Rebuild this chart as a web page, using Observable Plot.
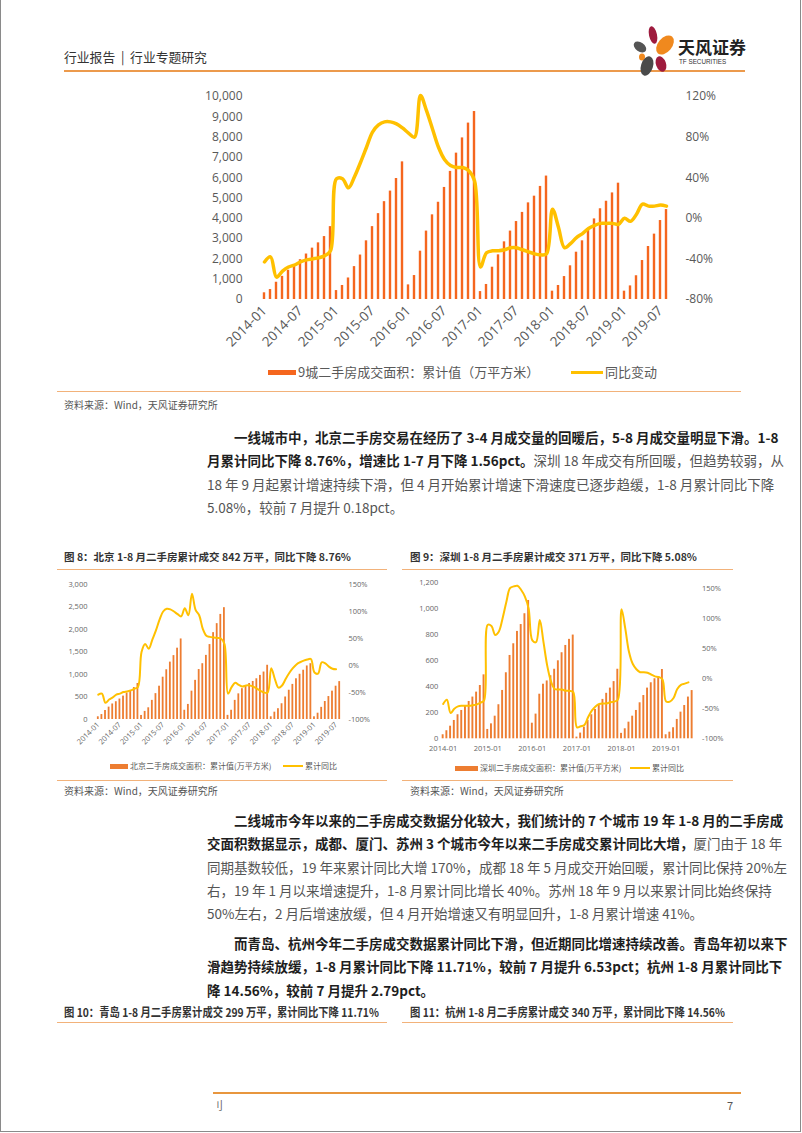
<!DOCTYPE html>
<html><head><meta charset="utf-8">
<script src="https://cdn.jsdelivr.net/npm/d3@7"></script>
<script src="https://cdn.jsdelivr.net/npm/@observablehq/plot@0.6"></script>
<style>
html,body{margin:0;padding:0;background:#fff}
body{width:802px;height:1133px;position:relative;overflow:hidden;font-family:"Noto Sans CJK SC","Noto Sans",sans-serif}
.a{position:absolute;white-space:nowrap}
.frame{position:absolute;left:0;top:-2px;width:799px;height:1132px;border:1px solid #8a8a8a}
.hr{position:absolute;height:1px;background:#F2B27A}
.para div{height:23.3px;line-height:23.3px;font-size:13.5px;text-align:justify;text-align-last:justify;white-space:nowrap}
.para div.last{text-align-last:left}
.b{color:#1e1e1e;font-weight:700}
.n{color:#555}
.src{font-size:10px;color:#555}
.ft{font-size:10.5px;font-weight:700;color:#333}
.lg{font-size:13px;color:#595959}
.lgs{font-size:8px;color:#595959}
</style></head><body>
<div class="frame"></div>

<!-- header -->
<div class="a" style="left:64px;top:48px;font-size:12.8px;line-height:18px;color:#333">行业报告&nbsp;&nbsp;|&nbsp;&nbsp;行业专题研究</div>
<div class="a" style="left:64px;top:70px;width:681px;height:2px;background:#EC9A4C"></div>
<svg class="a" style="left:628px;top:24px" width="120" height="54">
  <ellipse cx="25" cy="11" rx="4" ry="9" transform="rotate(-12 25 11)" fill="#9E1B3E"/>
  <ellipse cx="37" cy="21" rx="7" ry="11" transform="rotate(40 37 21)" fill="#F0891E"/>
  <ellipse cx="12" cy="23" rx="4.5" ry="7" transform="rotate(-55 12 23)" fill="#555"/>
  <ellipse cx="14" cy="33" rx="3" ry="3.5" fill="#F0891E"/>
  <ellipse cx="19" cy="42" rx="6" ry="10" transform="rotate(18 19 42)" fill="#4a4a4a"/>
  <ellipse cx="33" cy="40" rx="5" ry="8" transform="rotate(-20 33 40)" fill="#9E1B3E"/>
  <text x="50" y="30" font-size="17" font-weight="700" fill="#222" font-family="Noto Sans CJK SC">天风证券</text>
  <text x="51" y="40" font-size="6.3" fill="#333" font-family="Liberation Sans Narrow, Liberation Sans">TF SECURITIES</text>
</svg>

<!-- main chart -->
<div id="main" class="a" style="left:190px;top:85px"></div>
<div class="a" style="left:268px;top:370px;width:28px;height:5px;background:#F5661E"></div>
<div class="a lg" style="left:298px;top:363px;line-height:18px">9城二手房成交面积：累计值（万平方米）</div>
<div class="a" style="left:571px;top:371px;width:32px;height:3px;background:#FFC000"></div>
<div class="a lg" style="left:605px;top:363px;line-height:18px">同比变动</div>
<div class="hr" style="left:57px;top:391px;width:684px"></div>
<div class="a src" style="left:64px;top:398px;line-height:14px">资料来源：Wind，天风证券研究所</div>

<!-- paragraph 1 -->
<div class="a para" style="left:207px;top:426px;width:533px">
  <div class="b" style="padding-left:27px">一线城市中，北京二手房交易在经历了 3-4 月成交量的回暖后，5-8 月成交量明显下滑。1-8</div>
  <div><span class="b">月累计同比下降 8.76%，增速比 1-7 月下降 1.56pct。</span><span class="n">深圳 18 年成交有所回暖，但趋势较弱，从</span></div>
  <div class="n">18 年 9 月起累计增速持续下滑，但 4 月开始累计增速下滑速度已逐步趋缓，1-8 月累计同比下降</div>
  <div class="n last">5.08%，较前 7 月提升 0.18pct。</div>
</div>

<!-- figure 8 / 9 titles -->
<div class="a ft" style="left:64px;top:549px;line-height:16px">图 8：北京 1-8 月二手房累计成交 842 万平，同比下降 8.76%</div>
<div class="hr" style="left:57px;top:569px;width:330px"></div>
<div class="a ft" style="left:410px;top:549px;line-height:16px">图 9：深圳 1-8 月二手房累计成交 371 万平，同比下降 5.08%</div>
<div class="hr" style="left:402px;top:569px;width:331px"></div>

<div id="bj" class="a" style="left:60px;top:575px"></div>
<div id="sz" class="a" style="left:400px;top:575px"></div>

<div class="a" style="left:110px;top:764px;width:18px;height:5px;background:#ED7D31"></div>
<div class="a lgs" style="left:130px;top:760px;line-height:12px">北京二手房成交面积：累计值(万平方米)</div>
<div class="a" style="left:283px;top:765px;width:20px;height:2px;background:#FFC000"></div>
<div class="a lgs" style="left:305px;top:760px;line-height:12px">累计同比</div>

<div class="a" style="left:455px;top:766px;width:23px;height:5px;background:#ED7D31"></div>
<div class="a lgs" style="left:480px;top:762px;line-height:12px">深圳二手房成交面积：累计值(万平方米)</div>
<div class="a" style="left:630px;top:767px;width:20px;height:2px;background:#FFC000"></div>
<div class="a lgs" style="left:652px;top:762px;line-height:12px">累计同比</div>

<div class="hr" style="left:57px;top:780px;width:330px"></div>
<div class="hr" style="left:402px;top:780px;width:331px"></div>
<div class="a src" style="left:64px;top:784px;line-height:14px">资料来源：Wind，天风证券研究所</div>
<div class="a src" style="left:410px;top:784px;line-height:14px">资料来源：Wind，天风证券研究所</div>

<!-- paragraph 2 -->
<div class="a para" style="left:207px;top:809px;width:533px">
  <div class="b" style="padding-left:27px">二线城市今年以来的二手房成交数据分化较大，我们统计的 7 个城市 19 年 1-8 月的二手房成</div>
  <div><span class="b">交面积数据显示，成都、厦门、苏州 3 个城市今年以来二手房成交累计同比大增，</span><span class="n">厦门由于 18 年</span></div>
  <div class="n">同期基数较低，19 年来累计同比大增 170%，成都 18 年 5 月成交开始回暖，累计同比保持 20%左</div>
  <div class="n">右，19 年 1 月以来增速提升，1-8 月累计同比增长 40%。苏州 18 年 9 月以来累计同比始终保持</div>
  <div class="n last">50%左右，2 月后增速放缓，但 4 月开始增速又有明显回升，1-8 月累计增速 41%。</div>
</div>

<!-- paragraph 3 -->
<div class="a para" style="left:207px;top:932px;width:533px">
  <div class="b" style="padding-left:27px">而青岛、杭州今年二手房成交数据累计同比下滑，但近期同比增速持续改善。青岛年初以来下</div>
  <div class="b">滑趋势持续放缓，1-8 月累计同比下降 11.71%，较前 7 月提升 6.53pct；杭州 1-8 月累计同比下</div>
  <div class="b last">降 14.56%，较前 7 月提升 2.79pct。</div>
</div>

<!-- figure 10 / 11 titles -->
<div class="a ft" style="left:64px;top:1003px;font-size:12px;line-height:18px;transform:scaleX(0.86);transform-origin:left center">图 10：青岛 1-8 月二手房累计成交 299 万平，累计同比下降 11.71%</div>
<div class="hr" style="left:57px;top:1022px;width:330px"></div>
<div class="a ft" style="left:410px;top:1003px;font-size:12px;line-height:18px;transform:scaleX(0.86);transform-origin:left center">图 11：杭州 1-8 月二手房累计成交 340 万平，累计同比下降 14.56%</div>
<div class="hr" style="left:402px;top:1022px;width:331px"></div>

<!-- footer -->
<div class="a" style="left:213px;top:1092px;width:528px;height:2px;background:#E8963E"></div>
<div class="a" style="left:212px;top:1098px;font-size:11px;line-height:14px;color:#666">刂</div>
<div class="a" style="left:727px;top:1098px;font-size:11px;line-height:14px;color:#555">7</div>

<script>
// ---------- data ----------
const months = d3.range(68).map(i => `${2014 + Math.floor(i / 12)}-${String(i % 12 + 1).padStart(2, "0")}`);

// 9城二手房成交面积：累计值（万平方米）
const nineCityArea = [
  330, 490, 850, 1140, 1440, 1720, 1960, 2240, 2530, 2790, 3100, 3590,
  440, 690, 1060, 1620, 2190, 2890, 3590, 4230, 4820, 5340, 5960, 6780,
  720, 1180, 2380, 3370, 4170, 4790, 5520, 6310, 7210, 7960, 8690, 9260,
  390, 740, 1590, 2200, 2840, 3370, 3840, 4290, 4760, 5090, 5570, 6080,
  410, 690, 1130, 1660, 2330, 2890, 3400, 3970, 4470, 4840, 5250, 5730,
  410, 670, 1170, 1920, 2610, 3220, 3890, 4430
];
// 同比变动 (%)
const nineCityYoy = [
  -43, -38, -58, -52, -48, -46, -43, -41, -40, -39, -37, -32,
  39, 39, 30, 41, 55, 70, 85, 92, 95, 95, 93, 89,
  84, 80, 121, 106, 88, 70, 58, 52, 50, 50, 47, 37,
  -48, -34, -32, -32, -31, -29, -29, -31, -33, -35, -36, -35,
  9, -9, -29, -25, -19, -15, -10, -7, -5, -5, -5, -6,
  0, -3, 4, 14, 12, 12, 13, 12
];

// 北京二手房成交面积：累计值(万平方米)
const bjArea = [
  60, 110, 200, 275, 345, 395, 455, 520, 585, 640, 710, 800,
  90, 180, 260, 425, 575, 740, 940, 1105, 1275, 1420, 1585, 1790,
  205, 335, 630, 870, 1110, 1240, 1425, 1665, 1930, 2130, 2335, 2485,
  92, 205, 425, 570, 685, 740, 800, 845, 905, 980, 1055, 1205,
  60, 163, 240, 350, 500, 650, 780, 905, 1005, 1095, 1190, 1240,
  60, 140, 270, 400, 510, 630, 740, 842
];
// 北京 累计同比 (%)
const bjYoy = [
  -54, -52, -69, -63, -59, -54, -52, -49, -48, -46, -43, -40,
  25, 40, 31, 48, 65, 85, 100, 105, 104, 100, 95, 91,
  106, 93, 133, 103, 93, 68, 55, 53, 52, 51, 50, 40,
  -52, -40, -32, -36, -39, -37, -37, -39, -43, -47, -50, -50,
  -5, -25, -41, -37, -25, -14, -5, 2, 6, 9, 11, 12,
  -13, -15, 6, 4, -2, -6, -7
];

// 深圳二手房成交面积：累计值(万平方米)
const szArea = [
  31, 62, 97, 141, 185, 218, 256, 287, 321, 359, 410, 492,
  72, 115, 174, 262, 372, 508, 641, 731, 826, 879, 962, 1064,
  120, 190, 343, 420, 445, 485, 535, 600, 662, 718, 765, 798,
  13, 44, 90, 141, 185, 226, 262, 303, 350, 390, 440, 535,
  42, 77, 128, 174, 218, 277, 333, 390, 431, 462, 474, 533,
  31, 51, 85, 149, 205, 256, 321, 371
];
// 深圳 累计同比 (%)
const szYoy = [
  -42, -35, -57, -50, -46, -45, -45, -45, -44, -43, -40, -36,
  90, 88, 73, 79, 101, 128, 151, 154, 155, 148, 137, 117,
  64, 61, 98, 61, 22, -4, -17, -18, -18, -20, -20, -22,
  -81, -79, -77, -64, -53, -46, -42, -41, -41, -39, -38, -35,
  116, 84, 45, 25, 16, 11, 11, 10, 7, 4, 3, -1,
  -38, -38, -32, -17, -10, -8, -6
];

const mainLeftTicks = d3.range(0, 10001, 1000);
const mainRightTicks = [-80, -40, 0, 40, 80, 120];
const bjLeftTicks = d3.range(0, 3001, 500);
const bjRightTicks = [-100, -50, 0, 50, 100, 150];
const szLeftTicks = d3.range(0, 1201, 200);
const szRightTicks = [-100, -50, 0, 50, 100, 150];

const BAR_MAIN = "#F5661E", BAR_SMALL = "#ED7D31", LINE = "#FFC000";
const fmt = d3.format(",");

function dualChart(o) {
  const bars = months.map((m, i) => ({m, v: o.area[i]}));
  const line = o.yoy.map((p, i) => ({m: months[i], p}));
  const toLeft = p => (p - o.pMin) * o.k;
  const fromLeft = v => Math.round(v / o.k + o.pMin);
  return Plot.plot({
    width: o.width, height: o.height,
    marginLeft: o.ml, marginRight: o.mr, marginTop: o.mt, marginBottom: o.mb,
    style: {fontFamily: "'Open Sans','Noto Sans CJK SC',sans-serif", fontSize: o.fs + "px", color: o.tc, background: "transparent", overflow: "visible"},
    x: {type: "band", domain: months, padding: 0},
    y: {domain: o.yDomain},
    marks: [
      Plot.barY(bars, {x: "m", y: "v", fill: o.barColor, insetLeft: o.inset, insetRight: o.inset}),
      Plot.lineY(line, {x: "m", y: d => toLeft(d.p), stroke: LINE, strokeWidth: o.lw, curve: "catmull-rom"}),
      Plot.axisY({ticks: o.leftTicks, tickFormat: fmt, tickSize: 0, tickPadding: o.lp, label: null}),
      Plot.axisY({anchor: "right", ticks: o.rightTicks.map(toLeft), tickFormat: v => fromLeft(v) + "%", tickSize: 0, tickPadding: o.rp, label: null}),
      Plot.axisX({ticks: months.filter((d, i) => i % o.every === 0), tickRotate: o.rot, tickSize: 0, tickPadding: o.xp, fontSize: o.xfs, label: null})
    ]
  });
}

document.getElementById("main").append(dualChart({
  area: nineCityArea, yoy: nineCityYoy, pMin: -80, k: 50,
  width: 530, height: 265, ml: 66, mr: 46, mt: 11, mb: 51,
  fs: 12, xfs: 13.5, tc: "#595959", yDomain: [0, 10000], barColor: BAR_MAIN, inset: 1.8, lw: 3.5,
  leftTicks: mainLeftTicks, rightTicks: mainRightTicks, lp: 14, rp: 11, every: 6, rot: -45, xp: 9
}));

document.getElementById("bj").append(dualChart({
  area: bjArea, yoy: bjYoy, pMin: -100, k: 12,
  width: 320, height: 183, ml: 36, mr: 39, mt: 9, mb: 39,
  fs: 7.5, xfs: 7.5, tc: "#666", yDomain: [0, 3000], barColor: BAR_SMALL, inset: 0.9, lw: 2,
  leftTicks: bjLeftTicks, rightTicks: bjRightTicks, lp: 9, rp: 7, every: 6, rot: -45, xp: 4
}));

document.getElementById("sz").append(dualChart({
  area: szArea, yoy: szYoy, pMin: -100, k: 1200 / 260,
  width: 320, height: 185, ml: 40.8, mr: 26.5, mt: 7.3, mb: 21.7,
  fs: 7.5, xfs: 7.5, tc: "#666", yDomain: [0, 1200], barColor: BAR_SMALL, inset: 0.9, lw: 2,
  leftTicks: szLeftTicks, rightTicks: szRightTicks, lp: 3, rp: 8, every: 12, rot: 0, xp: 7
}));
</script>
</body></html>
